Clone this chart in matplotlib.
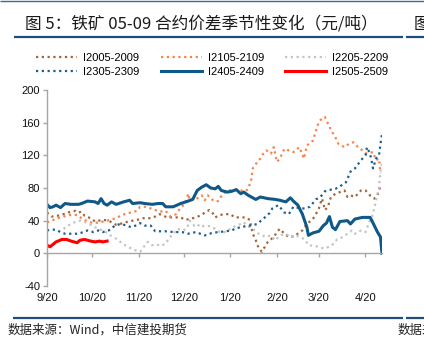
import matplotlib
matplotlib.use('Agg')
import matplotlib.pyplot as plt
from matplotlib.lines import Line2D
import pandas as pd

# ---------------- data ----------------
start_date = '2022-09-20'
tick_dates = ['2022-09-20', '2022-10-20', '2022-11-20', '2022-12-20',
              '2023-01-20', '2023-02-20', '2023-03-20', '2023-04-20']
tick_labels = ['9/20', '10/20', '11/20', '12/20', '1/20', '2/20', '3/20', '4/20']
y_ticks = [-40, 0, 40, 80, 120, 160, 200]

# days since 9/20, values (元/吨)
days_2005 = [0, 3, 7, 11, 14, 19, 21, 23, 25, 29, 32, 37, 41, 46, 51, 54, 60, 64, 69, 72,
             75, 80, 83, 89, 92, 95, 99, 103, 105, 108, 110, 112, 115, 119, 122, 125, 129,
             132, 135, 136, 137, 139, 140, 142, 143, 145, 147, 151, 153, 155, 158, 161, 165,
             168, 170, 173, 177, 179, 181, 183, 184, 185, 187, 189, 192, 195, 198, 200, 202,
             205, 209, 212, 215, 218, 220, 222]
vals_2005 = [50, 45, 46, 48, 50, 52, 50, 51, 46, 43, 39, 41, 40, 35, 37, 39, 41, 43, 43, 45,
             48, 44, 44, 44, 41, 42, 44, 47, 50, 53, 50, 44, 47, 48, 48, 44, 44,
             44, 41, 32, 24, 16, 10, 4, 2, 8, 14, 20, 26, 30, 24, 20, 21,
             26, 28, 36, 42, 48, 55, 67, 61, 53, 57, 69, 73, 75, 77, 69, 71,
             69, 77, 77, 71, 67, 71, 83]

days_2105 = [0, 3, 7, 11, 15, 20, 23, 27, 31, 35, 40, 44, 48, 53, 56, 60, 62, 65, 69, 72,
             75, 79, 82, 86, 89, 92, 94, 95, 97, 99, 103, 105, 107, 111, 114, 117, 121, 125,
             129, 132, 134, 136, 137, 140, 142, 144, 146, 149, 151, 153, 155, 158, 161, 164,
             168, 171, 173, 177, 179, 181, 183, 185, 188, 190, 192, 194, 198, 201, 204, 207,
             210, 213, 217, 219, 221, 222]
vals_2105 = [38, 40, 43, 45, 47, 47, 43, 39, 37, 38, 40, 42, 45, 49, 50, 52, 57, 57, 55, 53,
             51, 52, 45, 48, 56, 61, 73, 65, 67, 66, 71, 65, 71, 64, 64, 73, 77, 78,
             77, 76, 79, 91, 104, 112, 116, 122, 126, 122, 130, 112, 116, 128, 126, 124,
             130, 116, 132, 138, 150, 161, 165, 167, 155, 148, 142, 134, 130, 134, 136, 130,
             126, 122, 124, 114, 116, 98]

days_2205 = [11, 14, 17, 21, 23, 27, 30, 33, 37, 40, 43, 47, 50, 53, 57, 60, 62, 64, 67, 70,
             73, 76, 79, 81, 83, 87, 90, 93, 95, 98, 100, 102, 105, 109, 112, 115, 119, 122,
             125, 129, 131, 133, 137, 140, 143, 146, 149, 152, 155, 159, 162, 165, 169, 172,
             174, 178, 181, 184, 188, 191, 193, 197, 200, 203, 205, 209, 212, 214, 217, 219,
             221, 222, 223]
vals_2205 = [30, 34, 37, 40, 40, 37, 34, 31, 28, 25, 21, 17, 12, 9, 5, 3, 2, 7, 14, 10,
             11, 9, 12, 18, 22, 30, 28, 30, 40, 34, 36, 32, 34, 33, 30, 26, 26, 30,
             33, 36, 38, 34, 30, 25, 22, 20, 22, 16, 22, 24, 20, 22, 20, 16,
             10, 9, 8, 6, 8, 12, 17, 20, 24, 28, 24, 28, 26, 36, 48, 65,
             81, 100, 110]

days_2305 = [0, 3, 6, 9, 12, 16, 21, 24, 27, 31, 34, 37, 41, 43, 45, 49, 53, 56, 59, 62,
             65, 69, 72, 79, 85, 90, 94, 99, 102, 105, 110, 114, 119, 123, 126, 130, 133,
             136, 140, 143, 145, 148, 150, 154, 158, 161, 164, 169, 172, 175, 179, 182, 185,
             189, 192, 195, 199, 202, 205, 209, 212, 213, 215, 216, 217, 219, 221, 222, 223]
vals_2305 = [28, 29, 29, 26, 24, 24, 24, 26, 28, 26, 28, 26, 28, 30, 34, 36, 34, 32, 34, 37,
             34, 34, 27, 27, 26, 26, 24, 26, 24, 22, 25, 26, 27, 28, 31, 32, 34,
             34, 36, 41, 44, 49, 55, 59, 50, 48, 57, 55, 55, 57, 66, 69, 76,
             78, 79, 82, 87, 100, 104, 114, 120, 130, 122, 114, 104, 116, 120, 134, 146]

days_2405 = [0, 2, 4, 6, 9, 12, 16, 21, 23, 27, 32, 34, 36, 38, 40, 43, 46, 51, 55, 57,
             62, 65, 70, 74, 77, 79, 84, 89, 94, 97, 100, 103, 106, 109, 112, 114, 116, 120,
             123, 126, 129, 131, 134, 139, 142, 147, 152, 155, 159, 162, 164, 167, 170, 173,
             174, 177, 181, 184, 186, 188, 190, 192, 195, 200, 202, 205, 210, 215, 216, 220,
             222, 223]
vals_2405 = [60, 56, 57, 59, 56, 61, 60, 60, 61, 64, 63, 61, 67, 61, 59, 63, 60, 63, 65, 61,
             62, 61, 60, 61, 61, 57, 57, 61, 64, 66, 77, 81, 84, 80, 79, 82, 77, 75,
             76, 78, 73, 75, 71, 66, 69, 67, 66, 65, 63, 68, 64, 59, 48, 32,
             22, 25, 27, 34, 37, 45, 32, 29, 39, 40, 36, 42, 44, 44, 41, 26,
             20, 0]

days_2505 = [0, 2, 4, 6, 10, 13, 16, 20, 22, 25, 29, 32, 35, 37, 40]
vals_2505 = [10, 8, 11, 14, 17, 17, 15, 13, 16, 17, 15, 14, 15, 14, 15]

series_names = ['I2005-2009', 'I2105-2109', 'I2205-2209', 'I2305-2309', 'I2405-2409', 'I2505-2509']

# ---------------- style ----------------
C_BROWN = '#A2643A'
C_ORANGE = '#F5844C'
C_GRAY = '#C4C4C4'
C_DBLUE = '#1C5E8E'
C_BLUE = '#0F5888'
C_RED = '#FF0000'
C_FRAME = '#1F4E79'
AX_GRAY = '#A6A6A6'

W, H = 424, 337
fig = plt.figure(figsize=(W / 100, H / 100), dpi=100)
ax = fig.add_axes([47 / W, 1 - 286 / H, (382 - 47) / W, (286 - 90) / H])

dot = (0, (1, 1.6))
lw_dot = 1.6
ax.plot(days_2005, vals_2005, color=C_BROWN, lw=lw_dot, ls=dot)
ax.plot(days_2105, vals_2105, color=C_ORANGE, lw=lw_dot, ls=dot)
ax.plot(days_2205, vals_2205, color=C_GRAY, lw=lw_dot, ls=dot)
ax.plot(days_2305, vals_2305, color=C_DBLUE, lw=lw_dot, ls=dot)
ax.plot(days_2405, vals_2405, color=C_BLUE, lw=2.2, solid_joinstyle='round')
ax.plot(days_2505, vals_2505, color=C_RED, lw=2.2, solid_joinstyle='round')

start = pd.Timestamp(start_date)
tick_pos = [(pd.Timestamp(d) - start).days for d in tick_dates]

ax.set_xlim(0, 223)
ax.set_ylim(-40, 200)
ax.set_yticks(y_ticks)
ax.set_yticklabels([str(v) for v in y_ticks])
for s in ['top', 'right']:
    ax.spines[s].set_visible(False)
ax.spines['left'].set_color(AX_GRAY)
ax.spines['left'].set_linewidth(1.0)
ax.spines['bottom'].set_position(('data', 0))
ax.spines['bottom'].set_color(AX_GRAY)
ax.spines['bottom'].set_linewidth(1.0)
ax.set_xticks(tick_pos)
ax.tick_params(axis='x', labelbottom=False, length=3, width=1, color=AX_GRAY, direction='out')
ax.tick_params(axis='y', length=3, width=1, color=AX_GRAY, direction='out', pad=2,
               labelsize=8, labelcolor='#111111')
for lab in ax.get_yticklabels():
    lab.set_family('Liberation Sans')
for p, lab in zip(tick_pos, tick_labels):
    ax.text(p, -0.062, lab, transform=ax.get_xaxis_transform(), ha='center', va='center',
            fontsize=8, family='Liberation Sans', color='#111111')

# legend (row-major order mapped to column fill)
hs = [Line2D([], [], color=C_BROWN, lw=lw_dot, ls=dot),
      Line2D([], [], color=C_ORANGE, lw=lw_dot, ls=dot),
      Line2D([], [], color=C_GRAY, lw=lw_dot, ls=dot),
      Line2D([], [], color=C_DBLUE, lw=lw_dot, ls=dot),
      Line2D([], [], color=C_BLUE, lw=2.2),
      Line2D([], [], color=C_RED, lw=2.2)]
order = [0, 3, 1, 4, 2, 5]
fig.legend([hs[i] for i in order], [series_names[i] for i in order], ncol=3,
           loc='upper left', bbox_to_anchor=(36 / W, 1 - 53 / H), frameon=False,
           borderpad=0, borderaxespad=0, handlelength=3.7, handletextpad=0.55,
           columnspacing=1.9, labelspacing=0.35,
           prop={'family': 'Liberation Sans', 'size': 8})

# title, frame lines, source
cjk = ['Noto Sans CJK SC', 'DejaVu Sans']
fig.text(25 / W, 1 - 24 / H, '图 5：铁矿 05-09 合约价差季节性变化（元/吨）', fontsize=12,
         family=cjk, ha='left', va='center', color='#1a1a1a')
fig.text(414 / W, 1 - 24 / H, '图', fontsize=12, family=cjk, ha='left', va='center', color='#1a1a1a')

def hline(x0, x1, y, lw, color):
    fig.add_artist(Line2D([x0 / W, x1 / W], [1 - y / H, 1 - y / H], transform=fig.transFigure,
                          color=color, lw=lw, solid_capstyle='butt'))

hline(0, W, 0.6, 1.0, '#3A6A95')
hline(14, 403, 37, 1.6, C_FRAME)
hline(406, W, 37, 1.6, C_FRAME)
hline(13, 403, 318, 1.6, C_FRAME)
hline(406, W, 318, 1.6, C_FRAME)

fig.text(8 / W, 1 - 330 / H, '数据来源：Wind，中信建投期货', fontsize=9, family=cjk,
         style='italic', ha='left', va='center', color='#222222')
fig.text(398 / W, 1 - 330 / H, '数据来源', fontsize=9, family=cjk,
         style='italic', ha='left', va='center', color='#222222')

fig.savefig('out.png', dpi=100)
